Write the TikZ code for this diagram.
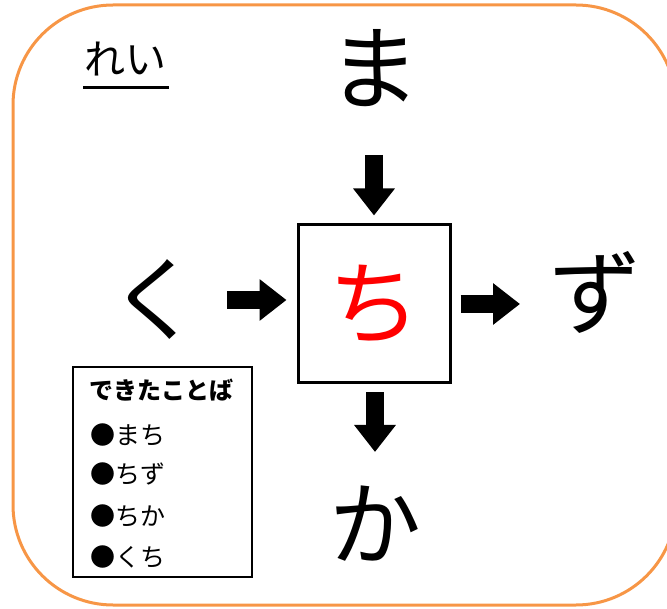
\documentclass[tikz,border=0pt]{standalone}
\usepackage{fontspec}
\setmainfont{Noto Sans CJK JP}
\usepackage{tikz}
\usetikzlibrary{arrows.meta,positioning}
\definecolor{FrameOrange}{RGB}{247,150,70}
\definecolor{KanaRed}{RGB}{255,0,0}

\begin{document}
\begin{tikzpicture}[
  x=1pt,y=-1pt,
  big/.style={inner sep=0pt,font=\fontsize{92}{92}\selectfont},
  blockarr/.style={-{Triangle[width=40pt,length=27pt]},line width=18pt},
  item/.style={inner sep=0pt,anchor=west,font=\fontsize{25}{25}\selectfont}
]
  \useasboundingbox (0,0) rectangle (667,609);
  \draw[FrameOrange,line width=3pt,rounded corners=100pt] (13,5) rectangle (676,605);

  % example label
  \node[inner sep=0pt,font=\fontsize{41}{41}\selectfont] (rei) at (125,59) {れい};
  \draw[line width=3pt] (83,88) -- (169,88);

  % centre square and the four kana
  \node[draw,line width=3pt,minimum width=152pt,minimum height=158pt,
        text=KanaRed,big] (chi) at (374,304) {ち};
  \node[big] (ma) at (374,68) {ま};
  \node[big] (ku) at (155,300) {く};
  \node[big] (zu) at (595,292) {ず};
  \node[big] (ka) at (375,524) {か};

  \draw[blockarr,shorten <=87pt,shorten >=8pt] (ma.center) -- (ma.center |- chi.north);
  \draw[blockarr,shorten <=8pt,shorten >=72pt] (chi.south -| ka.center) -- (ka.center);
  \draw[blockarr,shorten <=72pt,shorten >=10pt] (ku.center) -- (ku.center -| chi.west);
  \draw[blockarr,shorten <=9pt,shorten >=75pt] (chi.east) -- (chi.east -| zu.center);

  % word list
  \draw[line width=2pt] (73,367) rectangle (252,577);
  \node[inner sep=0pt,font=\bfseries\fontsize{24}{24}\selectfont] (title) at (161,390) {できたことば};
  \node[item] (w1) at (90,435) {●まち};
  \node[item] (w2) at (90,474) {●ちず};
  \node[item] (w3) at (90,516) {●ちか};
  \node[item] (w4) at (90,557) {●くち};
\end{tikzpicture}
\end{document}
